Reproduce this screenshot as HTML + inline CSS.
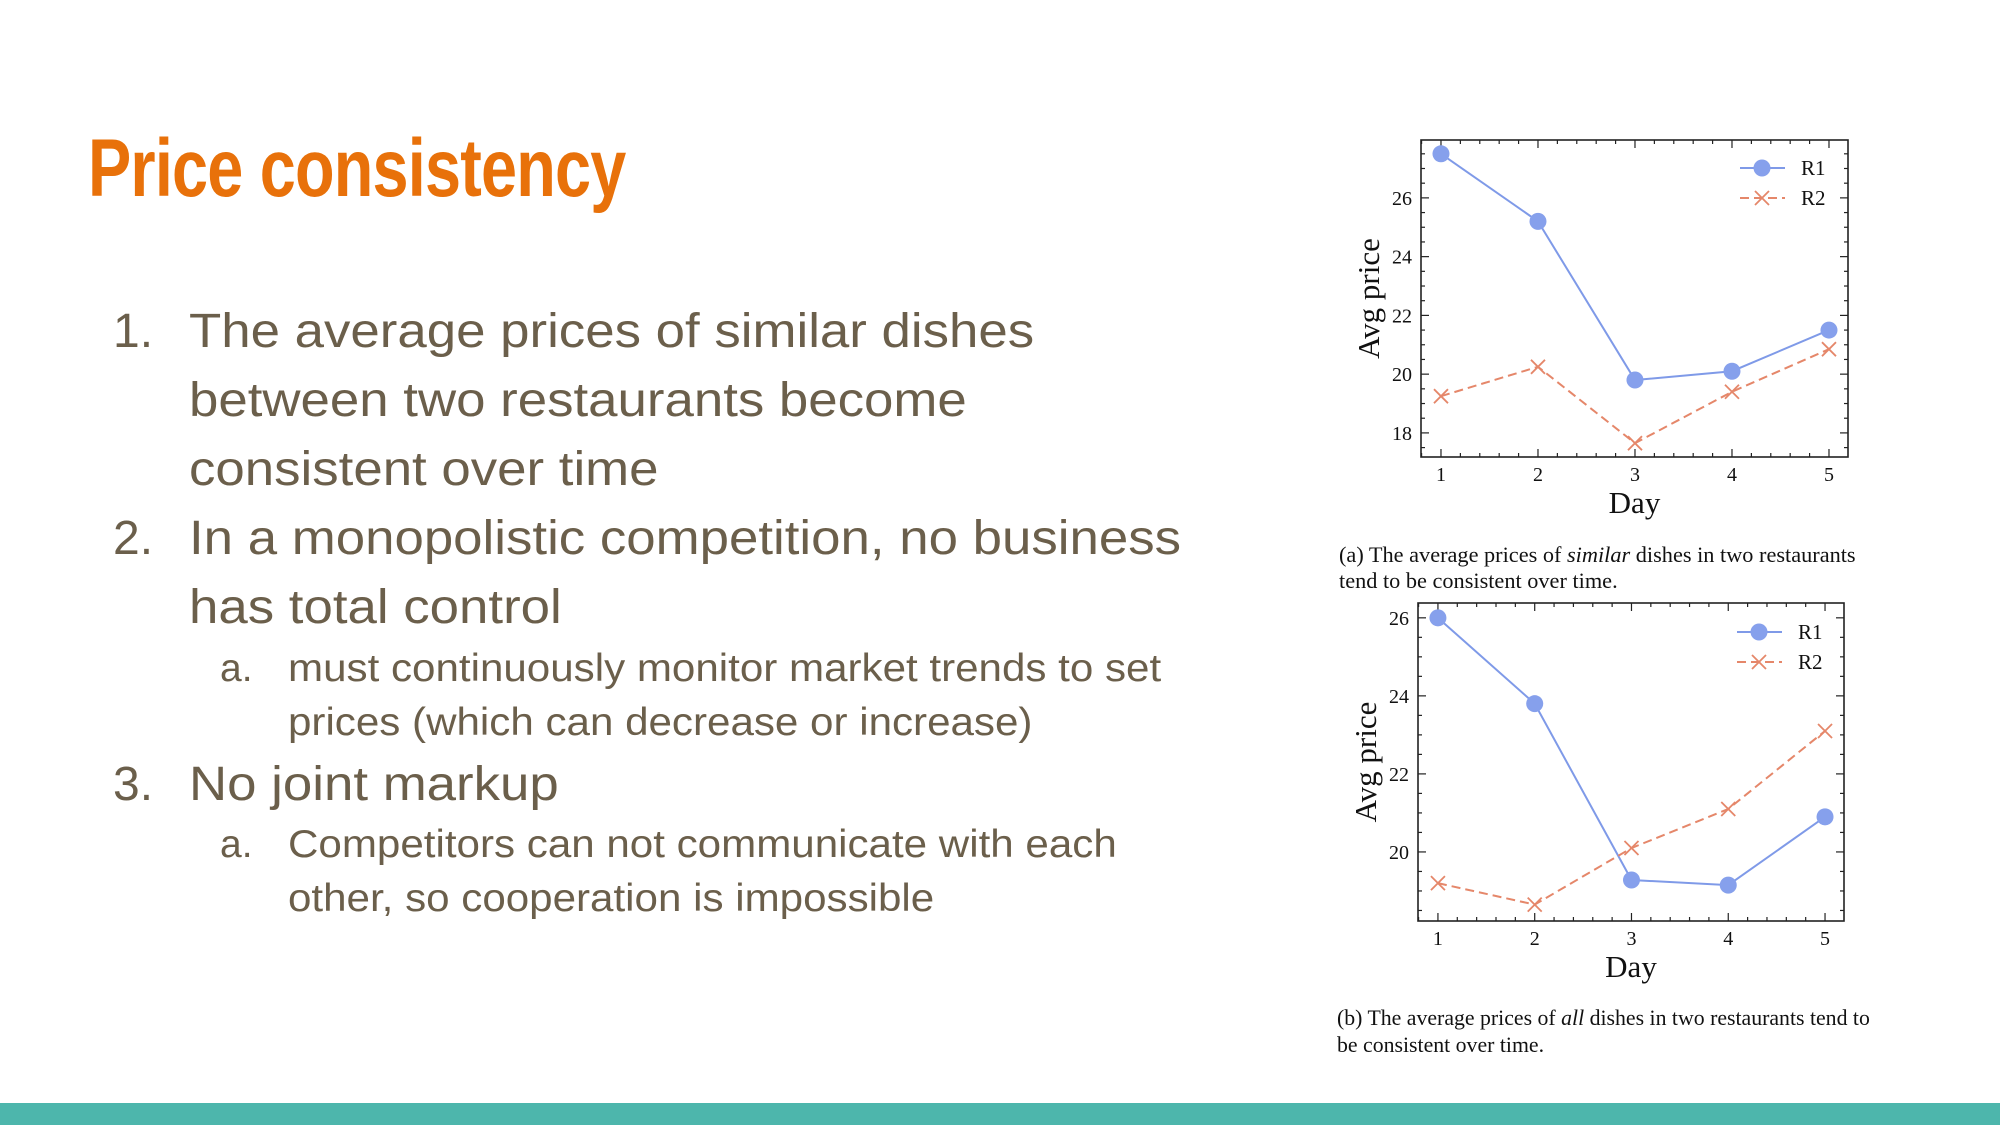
<!DOCTYPE html>
<html><head><meta charset="utf-8">
<style>
body{margin:0;width:2000px;height:1125px;background:#fff;overflow:hidden;position:relative;font-family:"Liberation Sans",sans-serif}
.t{position:absolute;color:#6b5f4b;white-space:nowrap}
.b{font-size:48px;line-height:69px}.s{font-size:39px;line-height:54px}
.w{transform:scaleX(1.10);transform-origin:0 0}
.ws{transform:scaleX(1.08);transform-origin:0 0}
</style></head><body>
<div class="t" style="left:88px;top:122px;font-weight:bold;font-size:82px;color:#e8710a;letter-spacing:-1px;transform:scaleX(0.79);transform-origin:0 0">Price consistency</div>
<div>
<div class="t b" style="left:113px;top:297px">1.</div>
<div class="t b w" style="left:189px;top:297px">The average prices of similar dishes<br>between two restaurants become<br>consistent over time</div>
<div class="t b" style="left:113px;top:504px">2.</div>
<div class="t b w" style="left:189px;top:504px">In a monopolistic competition, no business<br>has total control</div>
<div class="t s" style="left:220px;top:642px">a.</div>
<div class="t s ws" style="left:288px;top:642px">must continuously monitor market trends to set<br>prices (which can decrease or increase)</div>
<div class="t b" style="left:113px;top:750px">3.</div>
<div class="t b w" style="left:189px;top:750px">No joint markup</div>
<div class="t s" style="left:220px;top:818px">a.</div>
<div class="t s ws" style="left:288px;top:818px">Competitors can not communicate with each<br>other, so cooperation is impossible</div>
</div>
<div style="position:absolute;left:0;top:1103px;width:2000px;height:22px;background:#4db6ac"></div>
<svg id="svg" width="2000" height="1125" style="position:absolute;left:0;top:0" font-family="'Liberation Serif',serif">
<text x="1339" y="562" font-size="22.3" fill="#111">(a)  The average prices of <tspan font-style="italic">similar</tspan> dishes in two restaurants</text>
<text x="1339" y="588" font-size="22.3" fill="#111">tend to be consistent over time.</text>
<text x="1337" y="1025" font-size="21.8" fill="#111">(b)  The average prices of <tspan font-style="italic">all</tspan> dishes in two restaurants tend to</text>
<text x="1337" y="1052" font-size="21.8" fill="#111">be consistent over time.</text>
</svg>
<script>
const days=[1,2,3,4,5];
const r1A=[27.5,25.2,19.8,20.1,21.5];
const r2A=[19.25,20.25,17.65,19.4,20.85];
const yTicksA=[18,20,22,24,26];
const r1B=[26,23.8,19.28,19.15,20.9];
const r2B=[19.2,18.65,20.1,21.1,23.1];
const yTicksB=[20,22,24,26];
const NS='http://www.w3.org/2000/svg';
const svg=document.getElementById('svg');
function mk(tag,attrs,parent){const e=document.createElementNS(NS,tag);for(const k in attrs)e.setAttribute(k,attrs[k]);(parent||svg).appendChild(e);return e;}
function chart(id,box,xr,yr,r1,r2,yt,leg){
  const g=mk('g',{});
  
  
  const X=v=>box.l+(v-xr[0])/(xr[1]-xr[0])*(box.r-box.l);
  const Y=v=>box.b-(v-yr[0])/(yr[1]-yr[0])*(box.b-box.t);
  mk('rect',{x:box.l,y:box.t,width:box.r-box.l,height:box.b-box.t,fill:'none',stroke:'#222','stroke-width':1.6},g);
  for(let v=Math.ceil(xr[0]*5)/5;v<=xr[1];v+=0.2){const x=X(v);const maj=Math.abs(v-Math.round(v))<0.01;const L=maj?8:4;
    mk('line',{x1:x,x2:x,y1:box.b,y2:box.b-L,stroke:'#222','stroke-width':1.2},g);mk('line',{x1:x,x2:x,y1:box.t,y2:box.t+L,stroke:'#222','stroke-width':1.2},g);}
  for(let v=Math.ceil(yr[0]*2)/2;v<=yr[1];v+=0.5){const y=Y(v);const maj=Math.abs(v/2-Math.round(v/2))<0.01;const L=maj?8:4;
    mk('line',{x1:box.l,x2:box.l+L,y1:y,y2:y,stroke:'#222','stroke-width':1.2},g);mk('line',{x1:box.r,x2:box.r-L,y1:y,y2:y,stroke:'#222','stroke-width':1.2},g);}
  days.forEach(d=>{const t=mk('text',{x:X(d),y:box.b+24,'font-size':20,'text-anchor':'middle',fill:'#111'},g);t.textContent=d;
    
    });
  yt.forEach(v=>{const t=mk('text',{x:box.l-9,y:Y(v)+7,'font-size':20,'text-anchor':'end',fill:'#111'},g);t.textContent=v;
    
    });
  const xl=mk('text',{x:(box.l+box.r)/2,y:box.b+56,'font-size':31,'text-anchor':'middle',fill:'#111'},g);xl.textContent='Day';
  
  
  const cy=(box.t+box.b)/2, tx=box.l-42;
  const yl=mk('text',{x:tx,y:cy,'font-size':31,'text-anchor':'middle',fill:'#111',transform:`rotate(-90 ${tx} ${cy})`},g);yl.textContent='Avg price';
  
  
  const p1=mk('polyline',{points:days.map((d,i)=>X(d)+','+Y(r1[i])).join(' '),fill:'none',stroke:'#7f9ae8','stroke-width':2},g);
  
  
  const p2=mk('polyline',{points:days.map((d,i)=>X(d)+','+Y(r2[i])).join(' '),fill:'none',stroke:'#e5876a','stroke-width':2,'stroke-dasharray':'9 5'},g);
  
  
  days.forEach((d,i)=>{const c=mk('circle',{cx:X(d),cy:Y(r1[i]),r:8.5,fill:'#86a0ec'},g);
    
    
    const x=X(d),y=Y(r2[i]);
    const m=mk('path',{d:`M${x-7} ${y-7}L${x+7} ${y+7}M${x-7} ${y+7}L${x+7} ${y-7}`,stroke:'#e5876a','stroke-width':1.8},g);
    
    });
  const lg=mk('g',{},g);
  
  
  mk('line',{x1:leg.x,x2:leg.x+45,y1:leg.y,y2:leg.y,stroke:'#7f9ae8','stroke-width':2},lg);
  mk('circle',{cx:leg.x+22,cy:leg.y,r:8.5,fill:'#86a0ec'},lg);
  const y2=leg.y+30;
  mk('line',{x1:leg.x,x2:leg.x+45,y1:y2,y2:y2,stroke:'#e5876a','stroke-width':2,'stroke-dasharray':'9 5'},lg);
  mk('path',{d:`M${leg.x+15} ${y2-7}L${leg.x+29} ${y2+7}M${leg.x+15} ${y2+7}L${leg.x+29} ${y2-7}`,stroke:'#e5876a','stroke-width':1.8},lg);
  const a=mk('text',{x:leg.x+61,y:leg.y+7,'font-size':21,fill:'#111'},lg);a.textContent='R1';
  const b=mk('text',{x:leg.x+61,y:y2+7,'font-size':21,fill:'#111'},lg);b.textContent='R2';
}
chart('chart-a',{l:1421,r:1848,t:140,b:457},[0.794,5.196],[17.18,27.97],r1A,r2A,yTicksA,{x:1740,y:168});
chart('chart-b',{l:1418,r:1844,t:603,b:921},[0.794,5.196],[18.23,26.38],r1B,r2B,yTicksB,{x:1737,y:632});
</script>
</body></html>
